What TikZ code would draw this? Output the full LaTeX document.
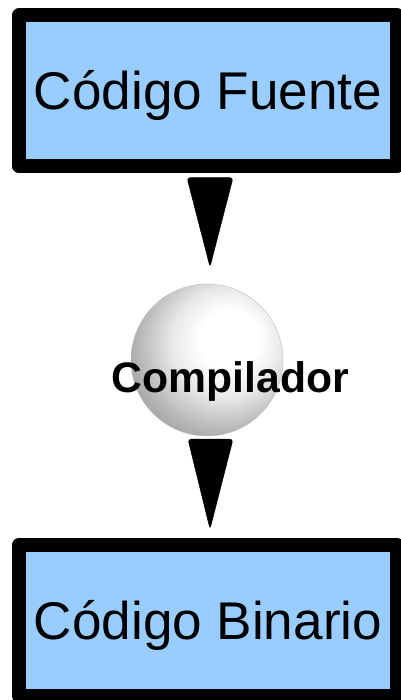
\documentclass[tikz,border=0pt]{standalone}
\usepackage{fontspec}
\setmainfont{Liberation Sans}
\usetikzlibrary{calc}
\definecolor{boxblue}{RGB}{153,204,255}
\pgfdeclareradialshading{litball}{\pgfqpoint{9bp}{8bp}}{%
  color(0bp)=(white); color(10bp)=(white); color(18bp)=(gray!18);
  color(27bp)=(gray!55); color(35bp)=(gray!82); color(60bp)=(gray)}
\tikzset{
  codebox/.style={draw=black, fill=boxblue, line width=14pt, line join=round,
    minimum width=378pt, minimum height=151pt, inner sep=0pt,
    text height=38pt, text depth=0pt,
    font=\fontsize{53.1}{60}\selectfont},
  ballnode/.style={circle, minimum size=152pt, inner sep=0pt, shading=litball,
    draw=gray!50, line width=0.4pt},
  balllabel/.style={inner sep=0pt, text height=30.5pt, text depth=0pt,
    font=\fontsize{42.7}{48}\selectfont\bfseries},
  wedge/.style={fill=black, draw=black, line width=0.5pt, rounded corners=3pt}
}
\begin{document}
\begin{tikzpicture}[x=1pt, y=-1pt]
\useasboundingbox (0,0) rectangle (400,700);
\node[codebox] (src) at (208,90.75) {Código Fuente};
\node[ballnode] (comp) at (207,360) {};
\node[balllabel] (complabel) at ($(comp.center)+(23.5,17)$) {Compilador};
\node[codebox] (bin) at (208,620.5) {Código Binario};
\fill[wedge] ($(src.south)+(-21,4.5)$) -- ($(src.south)+(25,4.5)$) -- ($(comp.north)+(3,-17)$) -- cycle;
\fill[wedge] ($(comp.south)+(-19,3)$) -- ($(comp.south)+(26,3)$) -- ($(bin.north)+(2,-9)$) -- cycle;
\end{tikzpicture}
\end{document}
